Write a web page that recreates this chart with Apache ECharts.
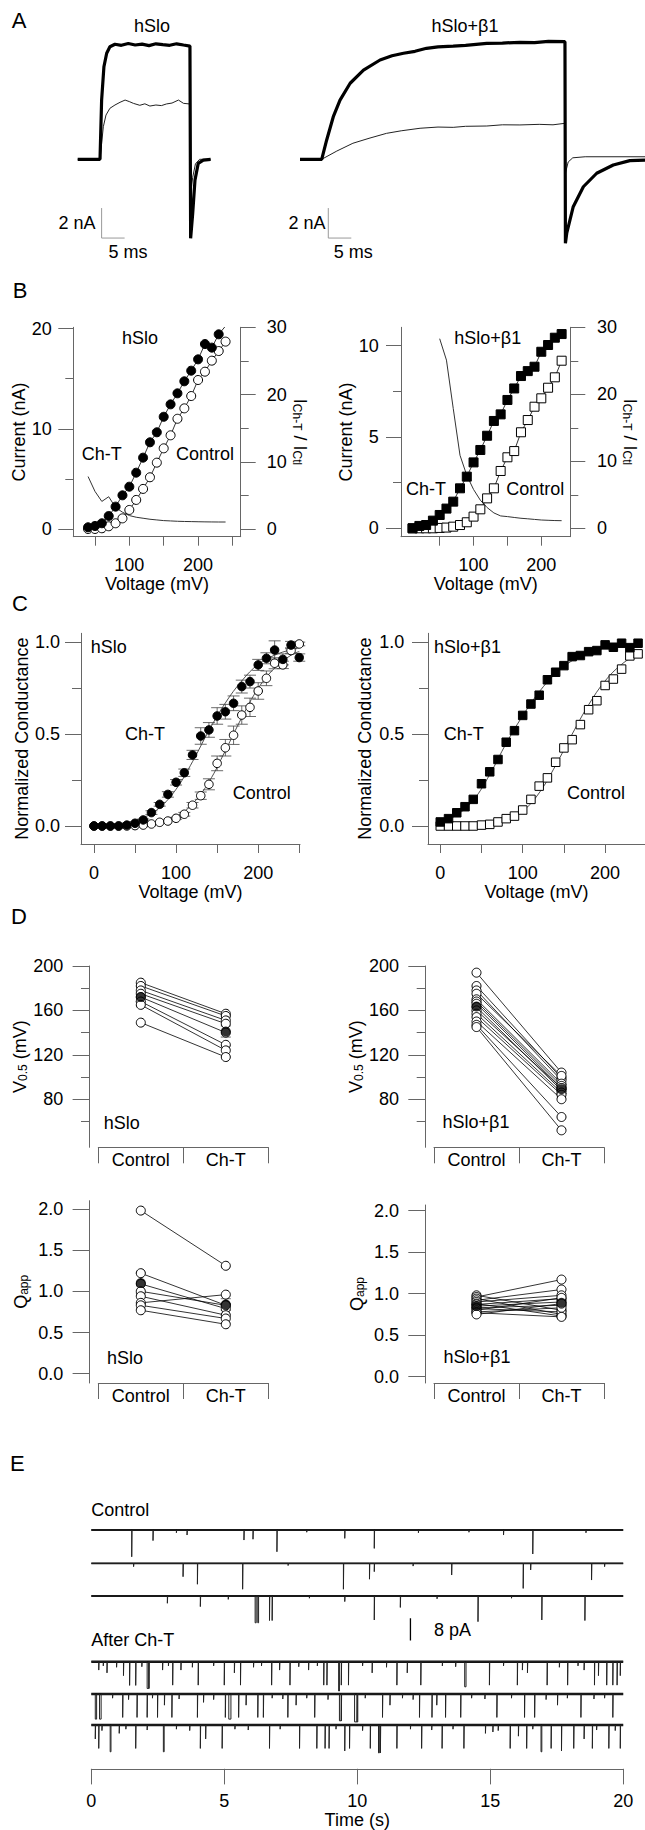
<!DOCTYPE html>
<html>
<head>
<meta charset="utf-8">
<title>Ch-T on hSlo and hSlo+β1</title>
<script src="https://cdn.jsdelivr.net/npm/echarts@6.0.0/dist/echarts.min.js"></script>
<style>
  html, body { margin: 0; padding: 0; background: #ffffff; }
  #chart { width: 645px; height: 1830px; }
</style>
</head>
<body>
<div id="chart"></div>
<script>
// ============================================================
// Data
// ============================================================

// --- A: macroscopic current traces (time ms, current nA)
var A_HSLO_CHT_T = [0, 4.85, 5.2, 5.7, 6.3, 7.0, 8.1, 9.5, 11, 12.5, 14, 15.5, 17, 18.5, 20, 21.5, 23, 24.4, 24.55, 25.0, 25.5, 26.2, 27.3, 28.9];
var A_HSLO_CHT_I = [0, 0, 3.95, 6.17, 7.07, 7.5, 7.67, 7.6, 7.72, 7.62, 7.68, 7.58, 7.7, 7.64, 7.6, 7.7, 7.62, 7.55, -5.27, -3.6, -1.38, -0.27, -0.05, 0];
var A_HSLO_CTL_T = [0, 4.85, 5.57, 6.15, 7.0, 8.1, 9.2, 10.3, 11.2, 12.1, 13.5, 14.6, 15.7, 17.0, 18.2, 19.3, 20.5, 21.9, 23.0, 24.3, 24.45, 25.0, 25.6, 26.5, 28.9];
var A_HSLO_CTL_I = [0, 0, 2.17, 2.95, 3.4, 3.62, 3.8, 3.95, 3.85, 3.73, 3.6, 3.7, 3.55, 3.62, 3.58, 3.69, 3.75, 3.95, 3.73, 3.69, -2.6, -1.2, -0.3, 0, 0];
var A_B1_CHT_T = [0, 4.72, 5.8, 7.24, 8.7, 10.9, 13.8, 17.4, 20, 22.5, 25, 27.5, 30, 33.3, 36, 40.6, 44, 47.8, 51, 54, 57.6, 57.7, 58.0, 59.4, 61.6, 64.5, 68.1, 71.7, 75];
var A_B1_CHT_I = [0, 0, 1.29, 2.84, 3.95, 5.07, 5.95, 6.62, 6.9, 7.07, 7.2, 7.4, 7.5, 7.55, 7.6, 7.73, 7.75, 7.8, 7.78, 7.86, 7.84, -5.6, -4.9, -3.16, -1.83, -0.93, -0.38, -0.09, -0.05];
var A_B1_CTL_T = [0, 4.72, 8, 11.5, 15, 18.8, 22, 26.1, 30, 33.3, 36, 40.6, 44, 47.8, 52, 55, 57.6, 57.7, 58.3, 59.3, 62, 75];
var A_B1_CTL_I = [0, 0, 0.55, 1.07, 1.4, 1.73, 1.9, 2.07, 2.15, 2.13, 2.2, 2.22, 2.3, 2.29, 2.33, 2.3, 2.4, -0.93, -0.18, 0.1, 0.17, 0.17];
var A_SCALE_NA = 2;
var A_SCALE_MS = 5;

// --- B: I-V (mV, nA) and ratio ICh-T / ICtl
var B_HSLO_V = [40, 50, 60, 70, 80, 90, 100, 110, 120, 130, 140, 150, 160, 170, 180, 190, 200, 210, 220, 230, 240];
var B_HSLO_CHT = [0.17, 0.3, 0.57, 1.3, 2.23, 3.36, 4.22, 5.62, 7.12, 8.65, 9.65, 11.2, 12.44, 13.54, 14.74, 15.8, 16.93, 18.46, 18.1, 19.43, 20.26];
var B_HSLO_CTL = [0, 0, 0.07, 0.27, 0.57, 1.06, 1.9, 2.9, 4.0, 5.16, 6.62, 8.05, 9.35, 11.0, 12.04, 13.27, 14.87, 15.7, 16.8, 17.76, 18.7];
var B_HSLO_RATIO = [7.8, 5.6, 4.1, 4.8, 3.2, 2.5, 2.0, 1.75, 1.6, 1.45, 1.35, 1.25, 1.2, 1.15, 1.12, 1.1, 1.08, 1.06, 1.05, 1.04, 1.04];

var B_B1_V = [10, 20, 30, 40, 50, 60, 70, 80, 90, 100, 110, 120, 130, 140, 150, 160, 170, 180, 190, 200, 210, 220, 230];
var B_B1_CHT = [0, 0.13, 0.18, 0.42, 0.73, 1.08, 1.46, 2.19, 2.83, 3.61, 4.29, 5.07, 5.88, 6.24, 7.03, 7.66, 8.34, 8.61, 8.85, 9.67, 10.04, 10.44, 10.64];
var B_B1_CTL = [0, 0, 0, 0, 0.02, 0.04, 0.09, 0.18, 0.33, 0.64, 1.04, 1.64, 2.19, 3.14, 3.89, 4.23, 5.26, 5.93, 6.66, 7.12, 7.7, 8.27, 9.18];
var B_B1_RATIO_V = [50, 60, 70, 80, 90, 100, 110, 120, 130, 140, 150, 160, 170, 180, 190, 200, 210, 220, 230];
var B_B1_RATIO = [28.3, 25.1, 17.9, 10.9, 7.9, 5.8, 4.2, 3.1, 2.3, 1.85, 1.75, 1.62, 1.5, 1.42, 1.33, 1.24, 1.2, 1.16, 1.14];

// --- C: normalized G-V
var C_HSLO_V = [0, 10, 20, 30, 40, 50, 60, 70, 80, 90, 100, 110, 120, 130, 140, 150, 160, 170, 180, 190, 200, 210, 220, 230, 240, 250];
var C_HSLO_CHT = [0, 0, 0, 0, 0.005, 0.015, 0.033, 0.073, 0.118, 0.172, 0.238, 0.29, 0.387, 0.49, 0.523, 0.599, 0.622, 0.668, 0.759, 0.786, 0.877, 0.913, 0.958, 0.907, 0.985, 0.917];
var C_HSLO_CHT_ERR = [0, 0, 0, 0, 0, 0, 0.005, 0.01, 0.01, 0.015, 0.015, 0.02, 0.025, 0.045, 0.04, 0.045, 0.04, 0.04, 0.035, 0.035, 0.03, 0.03, 0.05, 0.03, 0.02, 0.02];
var C_HSLO_CTL = [0, 0, 0, 0, 0, 0.002, 0.005, 0.011, 0.02, 0.027, 0.042, 0.064, 0.113, 0.165, 0.227, 0.341, 0.426, 0.494, 0.604, 0.646, 0.735, 0.804, 0.886, 0.877, 0.955, 0.991];
var C_HSLO_CTL_ERR = [0, 0, 0, 0, 0, 0, 0, 0, 0, 0, 0.005, 0.01, 0.015, 0.02, 0.03, 0.04, 0.045, 0.05, 0.05, 0.05, 0.045, 0.04, 0.03, 0.02, 0.015, 0.01];
var C_HSLO_FIT_V = [0, 20, 40, 60, 80, 100, 120, 140, 160, 180, 200, 220, 240, 250];
var C_HSLO_CHT_FIT = [0.005, 0.01, 0.02, 0.045, 0.1, 0.2, 0.35, 0.52, 0.67, 0.79, 0.88, 0.93, 0.96, 0.97];
var C_HSLO_CTL_FIT = [0, 0, 0.003, 0.008, 0.02, 0.05, 0.12, 0.24, 0.41, 0.59, 0.75, 0.86, 0.93, 0.95];

var C_B1_V = [0, 10, 20, 30, 40, 50, 60, 70, 80, 90, 100, 110, 120, 130, 140, 150, 160, 170, 180, 190, 200, 210, 220, 230, 240];
var C_B1_CHT = [0.022, 0.04, 0.072, 0.105, 0.145, 0.23, 0.295, 0.362, 0.456, 0.519, 0.602, 0.664, 0.712, 0.796, 0.837, 0.873, 0.922, 0.928, 0.949, 0.955, 0.986, 0.973, 0.995, 0.971, 0.995];
var C_B1_CTL = [0, 0, 0, 0, 0, 0.005, 0.009, 0.022, 0.04, 0.054, 0.087, 0.145, 0.217, 0.262, 0.347, 0.425, 0.47, 0.552, 0.633, 0.682, 0.765, 0.8, 0.854, 0.926, 0.937];
var C_B1_FIT_V = [0, 20, 40, 60, 80, 100, 120, 140, 160, 180, 200, 220, 240];
var C_B1_CHT_FIT = [0.02, 0.06, 0.14, 0.28, 0.45, 0.6, 0.73, 0.83, 0.9, 0.94, 0.97, 0.98, 0.99];
var C_B1_CTL_FIT = [0, 0, 0.003, 0.01, 0.03, 0.08, 0.18, 0.33, 0.5, 0.66, 0.79, 0.88, 0.94];

// --- D: paired V0.5 and Qapp, Control -> Ch-T
var D_CATS = ['Control', 'Ch-T'];
var D_HSLO_V_CTL = [185, 182, 178, 175, 172, 168, 165, 149];
var D_HSLO_V_CHT = [157, 155, 151, 148, 140, 129, 124, 118];
var D_HSLO_V_MEAN = [172, 141];
var D_HSLO_V_SEM = [4, 5];
var D_B1_V_CTL = [194, 182, 178, 175, 170, 168, 166, 163, 160, 157, 154, 150, 147, 145];
var D_B1_V_CHT = [104, 99, 97, 101, 94, 92, 90, 88, 90, 86, 84, 80, 64, 52];
var D_B1_V_MEAN = [163.5, 89];
var D_B1_V_SEM = [4, 4];
var D_HSLO_Q_CTL = [1.98, 1.22, 1.09, 1.0, 0.94, 0.86, 0.83, 0.77];
var D_HSLO_Q_CHT = [1.31, 0.83, 0.79, 0.83, 0.71, 0.96, 0.67, 0.60];
var D_HSLO_Q_MEAN = [1.1, 0.84];
var D_HSLO_Q_SEM = [0.12, 0.07];
var D_B1_Q_CTL = [0.98, 0.96, 0.94, 0.92, 0.90, 0.88, 0.87, 0.85, 0.83, 0.82, 0.80, 0.78, 0.77, 0.75];
var D_B1_Q_CHT = [0.80, 1.17, 0.75, 1.05, 0.98, 0.73, 0.94, 0.90, 0.86, 0.78, 0.95, 0.83, 0.72, 0.88];
var D_B1_Q_MEAN = [0.85, 0.89];
var D_B1_Q_SEM = [0.02, 0.03];

// --- E: single-channel openings [time s, amplitude pA, (duration s)]
var E_CTL_1 = [[1.52, 9.6], [2.32, 3.8], [3.2, 1], [3.6, 1.8], [5.74, 3.6], [6.08, 3.3], [6.98, 7.8], [8.1, 0.8], [9.53, 3.0], [10.64, 6.6], [12.3, 1], [14.2, 0.8], [15.5, 1.8], [16.6, 8.6], [18.6, 1]];
var E_CTL_2 = [[1.59, 1.2], [3.45, 4.8], [3.99, 7.5], [5.69, 9.3], [7.4, 0.8], [9.48, 9.3], [10.46, 5.7], [10.64, 3.0], [12.1, 1], [13.55, 4.2], [16.24, 9.0], [16.52, 2.4], [18.81, 6.0], [19.3, 1.2]];
var E_CTL_3 = [[2.86, 2.6], [4.1, 3.8], [5.15, 1.2], [6.16, 9.6, 0.04], [6.26, 9.6, 0.03], [6.7, 8.8], [6.8, 8.8], [8.2, 0.8], [9.53, 2.0], [10.64, 8.6], [11.62, 4.1], [13.0, 1], [14.54, 9.2], [15.8, 0.8], [16.94, 8.6], [18.56, 8.8]];
var E_CHT_1 = [[0.28, 3], [0.45, 1.5], [0.59, 4], [0.95, 2], [1.21, 5], [1.44, 8.5], [1.67, 8.5], [1.9, 1.8], [2.1, 9.6, 0.06], [2.17, 9.6], [2.68, 3], [2.9, 1.5], [3.06, 8.4], [3.37, 3], [3.8, 2], [4.02, 8.4], [4.6, 1.5], [5.0, 8.4], [5.38, 4], [5.61, 8.4], [6.1, 2], [6.4, 1.5], [6.78, 8.4], [7.08, 3], [7.47, 8.4], [7.8, 1.8], [8.17, 3], [8.5, 1.5], [8.74, 8.4], [8.86, 8.4], [9.3, 10.5, 0.03], [9.4, 8.4], [9.67, 8.4], [10.2, 1.5], [10.56, 4], [11.1, 2], [11.49, 8.4], [11.88, 4], [12.39, 8.4], [13.2, 1.5], [13.7, 1.8], [14.04, 9, 0.05], [14.97, 8.4], [15.5, 1.5], [16.02, 8.4], [16.21, 3], [16.4, 4], [17.14, 8.4], [17.6, 2], [17.91, 8.4], [18.3, 1.5], [18.53, 3], [18.92, 8.4], [19.07, 5], [19.38, 8.4], [19.61, 8.4], [19.77, 8.4], [19.89, 5]];
var E_CHT_2 = [[0.15, 9, 0.05], [0.31, 9, 0.06], [0.8, 1.5], [1.18, 8.4], [1.4, 2], [1.72, 8.4], [2.1, 8.4], [2.3, 1.5], [2.49, 8.4], [2.75, 4], [3.03, 8.4], [3.3, 1.8], [3.99, 8.4], [4.22, 3], [4.6, 2], [5.04, 8.4], [5.17, 9, 0.08], [5.54, 8.4], [5.82, 4], [6.26, 8.4], [6.47, 8.4], [6.8, 1.5], [7.2, 1.8], [7.39, 8.4], [7.7, 4], [8.1, 1.5], [8.4, 8.4], [8.9, 2], [9.33, 9.6, 0.07], [9.4, 9.6], [9.9, 10, 0.12], [9.99, 10], [10.3, 1.5], [10.95, 8.4], [11.23, 4], [11.7, 1.5], [12.1, 2], [12.34, 8.4], [12.81, 8.4], [12.99, 4], [13.32, 8.4], [13.89, 8.4], [14.3, 1.5], [14.8, 1.8], [15.25, 8.4], [15.8, 1.5], [16.29, 8.4], [16.67, 8.4], [17.1, 2], [17.53, 4], [17.9, 1.5], [18.41, 8.4], [18.9, 1.8], [19.3, 1.5], [19.61, 8.4]];
var E_CHT_3 = [[0.15, 5], [0.28, 8.4], [0.4, 2], [0.71, 9.6, 0.03], [1.05, 3], [1.3, 1.5], [1.67, 8.4], [2.1, 1.8], [2.71, 9.6, 0.03], [3.2, 1.5], [3.7, 2], [4.1, 8.4], [4.3, 5], [4.92, 8.4], [5.4, 1.5], [5.9, 1.8], [6.7, 8.4], [7.1, 1.5], [7.83, 8.4], [8.48, 8.4], [8.79, 8.4], [8.94, 8.4], [9.2, 1.5], [9.53, 9.3], [9.71, 8.4], [10.2, 2], [10.49, 8.4], [10.8, 10, 0.03], [10.87, 10], [11.49, 8.4], [12.0, 1.5], [12.42, 8.4], [12.8, 1.8], [13.19, 8.4], [13.6, 1.5], [14.01, 8.4], [14.82, 3], [15.1, 2.5], [15.3, 2], [15.75, 8.4], [16.06, 4], [16.37, 8.4], [16.6, 1.5], [16.91, 9.6, 0.03], [17.29, 8.4], [17.68, 9.3], [18.14, 8.4], [18.53, 5], [18.84, 8.4], [19.0, 1.8], [19.46, 8.4], [19.7, 2], [19.89, 8.4]];
var E_TIME_TICKS = [0, 5, 10, 15, 20];
var E_SCALE_PA = 8;
var EVENT_DUR = 0.012;

// ============================================================
// Layout / style constants
// ============================================================
var FONT = '"Liberation Sans", Arial, Helvetica, sans-serif';
var AXIS_COLOR = '#666';
var FS = 18;

var A_BAR_LEFT = {t: 5.2, i: -5.25};
var A_BAR_RIGHT = {t: 6.15, i: -5.25};
var E_BAR_T = 12.0;
var E_BASELINES = [1530, 1563.3, 1596, 1661.7, 1694, 1725];
var E_PX_PER_PA = 2.79;

// ============================================================
// Helpers
// ============================================================
var grids = [], xAxes = [], yAxes = [], series = [];

function addGrid(g) { grids.push(g); return grids.length - 1; }
function addX(a) { xAxes.push(a); return xAxes.length - 1; }
function addY(a) { yAxes.push(a); return yAxes.length - 1; }

function labelStyle() { return {color: '#000', fontSize: FS, fontFamily: FONT}; }

function hiddenAxis(gi, min, max) {
  return {gridIndex: gi, type: 'value', min: min, max: max, show: false};
}

function tickAxis(gi, min, max, pos, ticks, tickLen, labels, margin, fmt, showLine) {
  var lab = {show: false};
  if (labels) {
    lab = labelStyle();
    lab.show = true;
    lab.customValues = labels;
    lab.margin = margin;
    if (fmt) lab.formatter = fmt;
  }
  return {
    gridIndex: gi, type: 'value', min: min, max: max, position: pos,
    axisLine: {show: showLine !== false, onZero: false, lineStyle: {color: AXIS_COLOR, width: 1}},
    axisTick: {show: true, length: tickLen, customValues: ticks, lineStyle: {color: AXIS_COLOR, width: 1}},
    axisLabel: lab,
    splitLine: {show: false}
  };
}

function setName(axis, name, gap, rotate, rich) {
  axis.name = name;
  axis.nameLocation = 'middle';
  axis.nameGap = gap;
  if (rotate != null) axis.nameRotate = rotate;
  axis.nameTextStyle = labelStyle();
  if (rich) axis.nameTextStyle.rich = rich;
  return axis;
}

function pairs(xs, ys) {
  return xs.map(function(x, i) { return [x, ys[i]]; });
}

function fix1(v) { return v.toFixed(1); }

function plainLine(xi, yi, data, color, width) {
  return {
    type: 'line', xAxisIndex: xi, yAxisIndex: yi, data: data, symbol: 'none',
    lineStyle: {color: color, width: width}, silent: true, z: 2
  };
}

function markerLine(xi, yi, data, symbol, size, filled, lineW) {
  return {
    type: 'line', xAxisIndex: xi, yAxisIndex: yi, data: data,
    symbol: symbol, symbolSize: size, showSymbol: true,
    itemStyle: filled ? {color: '#000', borderColor: '#000', borderWidth: 1} : {color: '#fff', borderColor: '#000', borderWidth: 1},
    lineStyle: {color: '#000', width: lineW}, silent: true, z: 4
  };
}

function errorBars(xi, yi, data, capHalf) {
  return {
    type: 'custom', xAxisIndex: xi, yAxisIndex: yi, data: data, silent: true, z: 3,
    encode: {x: 0, y: [1, 2]},
    renderItem: function(params, api) {
      var x = api.value(0);
      var p1 = api.coord([x, api.value(1)]);
      var p2 = api.coord([x, api.value(2)]);
      var st = {stroke: '#444', lineWidth: 0.8};
      return {type: 'group', children: [
        {type: 'line', shape: {x1: p1[0], y1: p1[1], x2: p2[0], y2: p2[1]}, style: st},
        {type: 'line', shape: {x1: p1[0] - capHalf, y1: p1[1], x2: p1[0] + capHalf, y2: p1[1]}, style: st},
        {type: 'line', shape: {x1: p2[0] - capHalf, y1: p2[1], x2: p2[0] + capHalf, y2: p2[1]}, style: st}
      ]};
    }
  };
}

function errData(xs, ys, es) {
  var out = [];
  xs.forEach(function(x, i) {
    if (es[i] > 0) out.push([x, ys[i] - es[i], ys[i] + es[i]]);
  });
  return out;
}

function traceData(events) {
  var pts = [[0, 0]];
  events.slice().sort(function(a, b) { return a[0] - b[0]; }).forEach(function(e) {
    var dur = e[2] || EVENT_DUR;
    pts.push([e[0], 0], [e[0], -e[1]], [e[0] + dur, -e[1]], [e[0] + dur, 0]);
  });
  pts.push([20, 0]);
  return pts;
}

var SUB_RICH = {
  m: {fontSize: FS, fontFamily: FONT, color: '#000', lineHeight: 24, verticalAlign: 'bottom'},
  s: {fontSize: 12, fontFamily: FONT, color: '#000', lineHeight: 12, verticalAlign: 'bottom'}
};

// ============================================================
// Panel A
// ============================================================
(function() {
  var gL = addGrid({left: 77.7, top: 24.3, width: 138, height: 225});
  var gR = addGrid({left: 300, top: 24.3, width: 345, height: 225});
  var xL = addX(hiddenAxis(gL, 0, 30)), yL = addY(hiddenAxis(gL, -6, 9));
  var xR = addX(hiddenAxis(gR, 0, 75)), yR = addY(hiddenAxis(gR, -6, 9));

  series.push(plainLine(xL, yL, pairs(A_HSLO_CTL_T, A_HSLO_CTL_I), '#222', 1));
  series.push(plainLine(xL, yL, pairs(A_HSLO_CHT_T, A_HSLO_CHT_I), '#000', 3.2));
  series.push(plainLine(xR, yR, pairs(A_B1_CTL_T, A_B1_CTL_I), '#222', 1));
  series.push(plainLine(xR, yR, pairs(A_B1_CHT_T, A_B1_CHT_I), '#000', 3.2));

  [[xL, yL, A_BAR_LEFT], [xR, yR, A_BAR_RIGHT]].forEach(function(b) {
    var p = b[2];
    series.push(plainLine(b[0], b[1], [[p.t, p.i + A_SCALE_NA], [p.t, p.i], [p.t + A_SCALE_MS, p.i]], '#999', 1));
  });
})();

// ============================================================
// Panel B
// ============================================================
(function() {
  var RATIO_NAME = '{m|I}{s|Ch-T}{m| / I}{s|Ctl}';
  // hSlo
  var g1 = addGrid({left: 73.3, top: 327.3, width: 167.4, height: 209.4});
  var x1 = addX(setName(tickAxis(g1, 18.5, 262, 'bottom', [50, 100, 150, 200, 250], 9, [100, 200], 19), 'Voltage (mV)', 38.6));
  var y1 = addY(setName(tickAxis(g1, -0.77, 20.13, 'left', [0, 10, 20], 15, [0, 10, 20], 21.6), 'Current (nA)', 42.6, 90));
  addY(tickAxis(g1, -0.77, 20.13, 'left', [5, 15], 8, null, 0, null, false));
  var r1 = addY(setName(tickAxis(g1, -1.145, 30, 'right', [0, 10, 20, 30], 15, [0, 10, 20, 30], 26), RATIO_NAME, 48, -90, SUB_RICH));
  addY(tickAxis(g1, -1.145, 30, 'right', [5, 15, 25], 8, null, 0, null, false));

  series.push(plainLine(x1, r1, pairs(B_HSLO_V, B_HSLO_RATIO), '#333', 1));
  series.push(markerLine(x1, y1, pairs(B_HSLO_V, B_HSLO_CTL), 'circle', 9, false, 0.8));
  series.push(markerLine(x1, y1, pairs(B_HSLO_V, B_HSLO_CHT), 'circle', 9, true, 0.8));

  // hSlo + beta1
  var g2 = addGrid({left: 401, top: 327.3, width: 169.3, height: 209.4});
  var x2 = addX(setName(tickAxis(g2, -7.1, 242.8, 'bottom', [50, 100, 150, 200], 9, [100, 200], 19), 'Voltage (mV)', 38.6));
  var y2 = addY(setName(tickAxis(g2, -0.46, 11.01, 'left', [0, 5, 10], 15, [0, 5, 10], 22.3), 'Current (nA)', 38.3, 90));
  addY(tickAxis(g2, -0.46, 11.01, 'left', [2.5, 7.5], 8, null, 0, null, false));
  var r2 = addY(setName(tickAxis(g2, -1.25, 30, 'right', [0, 10, 20, 30], 15, [0, 10, 20, 30], 26.7), RATIO_NAME, 51, -90, SUB_RICH));
  addY(tickAxis(g2, -1.25, 30, 'right', [5, 15, 25], 8, null, 0, null, false));

  series.push(plainLine(x2, r2, pairs(B_B1_RATIO_V, B_B1_RATIO), '#333', 1));
  series.push(markerLine(x2, y2, pairs(B_B1_V, B_B1_CTL), 'rect', 9, false, 0.8));
  series.push(markerLine(x2, y2, pairs(B_B1_V, B_B1_CHT), 'rect', 9, true, 0.8));
})();

// ============================================================
// Panel C
// ============================================================
(function() {
  var g1 = addGrid({left: 81, top: 633.3, width: 219, height: 210.7});
  var x1 = addX(setName(tickAxis(g1, -15.8, 250.9, 'bottom', [0, 50, 100, 150, 200, 250], 9, [0, 100, 200], 20.3), 'Voltage (mV)', 36.3));
  var y1 = addY(setName(tickAxis(g1, -0.098, 1.049, 'left', [0, 0.5, 1], 16, [0, 0.5, 1], 21, fix1), 'Normalized Conductance', 50.3, 90));
  addY(tickAxis(g1, -0.098, 1.049, 'left', [0.25, 0.75], 9, null, 0, null, false));

  series.push(plainLine(x1, y1, pairs(C_HSLO_FIT_V, C_HSLO_CTL_FIT), '#222', 0.8));
  series.push(plainLine(x1, y1, pairs(C_HSLO_FIT_V, C_HSLO_CHT_FIT), '#222', 0.8));
  series[series.length - 1].smooth = 0.4;
  series[series.length - 2].smooth = 0.4;
  series.push(errorBars(x1, y1, errData(C_HSLO_V, C_HSLO_CTL, C_HSLO_CTL_ERR), 6));
  series.push(errorBars(x1, y1, errData(C_HSLO_V, C_HSLO_CHT, C_HSLO_CHT_ERR), 6));
  series.push(markerLine(x1, y1, pairs(C_HSLO_V, C_HSLO_CTL), 'circle', 8.5, false, 0));
  series.push(markerLine(x1, y1, pairs(C_HSLO_V, C_HSLO_CHT), 'circle', 8.5, true, 0));

  var g2 = addGrid({left: 428, top: 633.3, width: 217, height: 210.7});
  var x2 = addX(setName(tickAxis(g2, -14.9, 248.4, 'bottom', [0, 50, 100, 150, 200], 9, [0, 100, 200], 20.3), 'Voltage (mV)', 36.3));
  var y2 = addY(setName(tickAxis(g2, -0.098, 1.049, 'left', [0, 0.5, 1], 16, [0, 0.5, 1], 23.7, fix1), 'Normalized Conductance', 53.7, 90));
  addY(tickAxis(g2, -0.098, 1.049, 'left', [0.25, 0.75], 9, null, 0, null, false));

  series.push(plainLine(x2, y2, pairs(C_B1_FIT_V, C_B1_CTL_FIT), '#222', 0.8));
  series.push(plainLine(x2, y2, pairs(C_B1_FIT_V, C_B1_CHT_FIT), '#222', 0.8));
  series[series.length - 1].smooth = 0.4;
  series[series.length - 2].smooth = 0.4;
  series.push(markerLine(x2, y2, pairs(C_B1_V, C_B1_CTL), 'rect', 8.5, false, 0));
  series.push(markerLine(x2, y2, pairs(C_B1_V, C_B1_CHT), 'rect', 8.5, true, 0));
})();

// ============================================================
// Panel D
// ============================================================
function catAxis(gi) {
  var lab = labelStyle();
  lab.margin = 4;
  lab.interval = 0;
  return {
    gridIndex: gi, type: 'category', data: D_CATS, position: 'bottom', boundaryGap: true,
    axisLine: {show: true, onZero: false, lineStyle: {color: AXIS_COLOR, width: 1}},
    axisTick: {show: true, length: 16, interval: 0, lineStyle: {color: AXIS_COLOR, width: 1}},
    axisLabel: lab,
    splitLine: {show: false}
  };
}

function pairedPanel(grid, yMin, yMax, major, minor, labels, fmt, name, ctl, cht, mean, sem) {
  var gi = addGrid(grid);
  var xi = addX(catAxis(gi));
  var main = tickAxis(gi, yMin, yMax, 'left', major, 16.7, labels, 26, fmt);
  main.offset = 9;
  var yi = addY(setName(main, name, 59, 90, SUB_RICH));
  if (minor) {
    var mn = tickAxis(gi, yMin, yMax, 'left', minor, 8.3, null, 0, null, false);
    mn.offset = 9;
    addY(mn);
  }
  ctl.forEach(function(c, i) {
    var s = markerLine(xi, yi, [[0, c], [1, cht[i]]], 'circle', 9, false, 0.8);
    s.z = 3;
    series.push(s);
  });
  series.push(errorBars(xi, yi, [[0, mean[0] - sem[0], mean[0] + sem[0]], [1, mean[1] - sem[1], mean[1] + sem[1]]], 5));
  series.push({
    type: 'scatter', xAxisIndex: xi, yAxisIndex: yi, data: [[0, mean[0]], [1, mean[1]]],
    symbol: 'circle', symbolSize: 10, itemStyle: {color: '#000'}, silent: true, z: 5
  });
}

pairedPanel({left: 98.3, top: 966, width: 170, height: 181.3}, 36.7, 200, [80, 120, 160, 200], [60, 100, 140, 180], [80, 120, 160, 200], null,
  '{m|V}{s|0.5}{m| (mV)}', D_HSLO_V_CTL, D_HSLO_V_CHT, D_HSLO_V_MEAN, D_HSLO_V_SEM);
pairedPanel({left: 434, top: 966, width: 170, height: 181.3}, 36.7, 200, [80, 120, 160, 200], [60, 100, 140, 180], [80, 120, 160, 200], null,
  '{m|V}{s|0.5}{m| (mV)}', D_B1_V_CTL, D_B1_V_CHT, D_B1_V_MEAN, D_B1_V_SEM);
pairedPanel({left: 98.3, top: 1200.7, width: 170, height: 182.3}, -0.113, 2.1, [0, 0.5, 1, 1.5, 2], null, [0, 0.5, 1, 1.5, 2], fix1,
  '{m|Q}{s|app}', D_HSLO_Q_CTL, D_HSLO_Q_CHT, D_HSLO_Q_MEAN, D_HSLO_Q_SEM);
pairedPanel({left: 434, top: 1205, width: 170, height: 178}, -0.077, 2.069, [0, 0.5, 1, 1.5, 2], null, [0, 0.5, 1, 1.5, 2], fix1,
  '{m|Q}{s|app}', D_B1_Q_CTL, D_B1_Q_CHT, D_B1_Q_MEAN, D_B1_Q_SEM);

// ============================================================
// Panel E
// ============================================================
(function() {
  var traces = [E_CTL_1, E_CTL_2, E_CTL_3, E_CHT_1, E_CHT_2, E_CHT_3];
  traces.forEach(function(ev, k) {
    var base = E_BASELINES[k];
    var gi = addGrid({left: 91.3, top: base - 2 * E_PX_PER_PA, width: 531.9, height: 14 * E_PX_PER_PA});
    var xi = addX(hiddenAxis(gi, 0, 20));
    var yi = addY(hiddenAxis(gi, -12, 2));
    // closed-level baseline drawn heavier (the noisy band), openings thin
    series.push(plainLine(xi, yi, [[0, 0], [20, 0]], '#111', k < 3 ? 1.8 : 2.6));
    series.push(plainLine(xi, yi, traceData(ev), '#222', 1));
  });

  var gb = addGrid({left: 91.3, top: 1618.3, width: 531.9, height: E_SCALE_PA * E_PX_PER_PA});
  var xb = addX(hiddenAxis(gb, 0, 20));
  var yb = addY(hiddenAxis(gb, 0, E_SCALE_PA));
  series.push(plainLine(xb, yb, [[E_BAR_T, 0], [E_BAR_T, E_SCALE_PA]], '#000', 1.3));

  var gt = addGrid({left: 91.3, top: 1760, width: 531.9, height: 12.7});
  addX(setName(tickAxis(gt, 0, 20, 'bottom', E_TIME_TICKS, 15.6, E_TIME_TICKS, 23.3), 'Time (s)', 40));
  addY(hiddenAxis(gt, 0, 1));
})();

// ============================================================
// Text annotations
// ============================================================
function txt(x, y, s, size, align) {
  return {
    type: 'text', x: x, y: y, silent: true, z: 10,
    style: {
      text: s, fill: '#000', fontSize: size || FS, fontFamily: FONT,
      textAlign: align || 'center', textVerticalAlign: 'middle'
    }
  };
}

var graphics = [
  txt(19, 20, 'A', 22), txt(20, 290.7, 'B', 22), txt(20, 603.3, 'C', 22), txt(19, 916.7, 'D', 22), txt(17.3, 1463.3, 'E', 22),
  // A
  txt(152, 26, 'hSlo'), txt(465, 26, 'hSlo+β1'),
  txt(77, 223, '2 nA'), txt(128, 252, '5 ms'),
  txt(307, 223, '2 nA'), txt(353.3, 252, '5 ms'),
  // B
  txt(140, 338.3, 'hSlo'), txt(101.7, 454.3, 'Ch-T'), txt(205, 454.3, 'Control'),
  txt(487.7, 338.3, 'hSlo+β1'), txt(426, 489, 'Ch-T'), txt(535.3, 489, 'Control'),
  // C
  txt(108.7, 646.7, 'hSlo'), txt(145, 734.3, 'Ch-T'), txt(261.7, 792.7, 'Control'),
  txt(467.5, 646.7, 'hSlo+β1'), txt(463.7, 734.3, 'Ch-T'), txt(596, 792.7, 'Control'),
  // D
  txt(121.7, 1122.7, 'hSlo'), txt(476, 1121.7, 'hSlo+β1'),
  txt(125, 1357.7, 'hSlo'), txt(477, 1356.7, 'hSlo+β1'),
  // E
  txt(91.3, 1510, 'Control', FS, 'left'), txt(91.3, 1640, 'After Ch-T', FS, 'left'), txt(434, 1630, '8 pA', FS, 'left')
];

// ============================================================
// Render
// ============================================================
var chart = echarts.init(document.getElementById('chart'), null, {renderer: 'svg'});
chart.setOption({
  animation: false,
  backgroundColor: '#ffffff',
  textStyle: {fontFamily: FONT},
  grid: grids,
  xAxis: xAxes,
  yAxis: yAxes,
  series: series,
  graphic: graphics
});
</script>
</body>
</html>
